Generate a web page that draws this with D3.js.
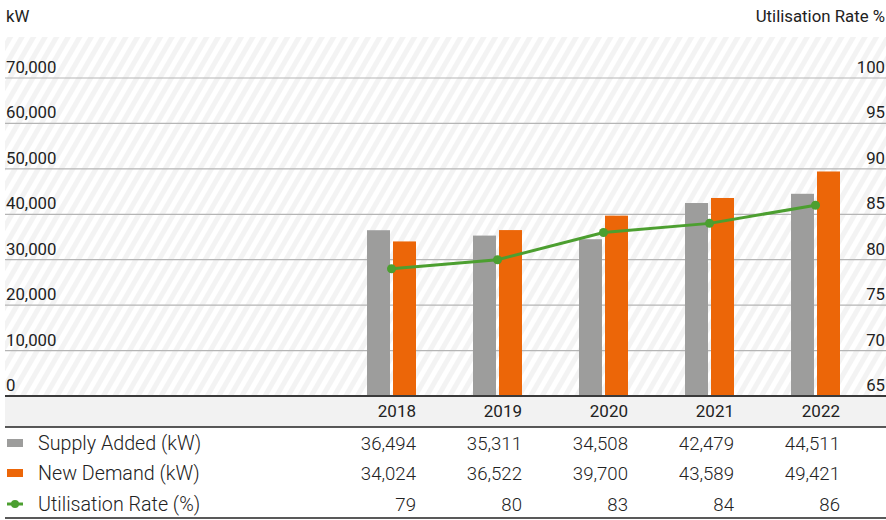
<!DOCTYPE html>
<html><head><meta charset="utf-8">
<script src="https://cdn.jsdelivr.net/npm/d3@7"></script>
<style>
html,body{margin:0;padding:0;background:#fff;}
svg{display:block;font-family:Roboto,"Noto Sans",sans-serif;}
</style></head>
<body>
<svg id="chart" width="886" height="520"></svg>
<script>
const years = ["2018","2019","2020","2021","2022"];
const supplyAdded = [36494, 35311, 34508, 42479, 44511];
const newDemand = [34024, 36522, 39700, 43589, 49421];
const utilisation = [79, 80, 83, 84, 86];
const leftTicks = [0, 10000, 20000, 30000, 40000, 50000, 60000, 70000];
const rightTicks = [65, 70, 75, 80, 85, 90, 95, 100];
const seriesNames = ["Supply Added (kW)", "New Demand (kW)", "Utilisation Rate (%)"];
const colors = {supply:"#9d9d9c", demand:"#ec6608", util:"#4c9f30"};

(function(){
const svg = d3.select("#chart");
const pLeft = 5, pRight = 886, pTop = 37, base = 396;
const yTop = 78;

const y = d3.scaleLinear().domain([0,70000]).range([base, yTop]);
const y2 = d3.scaleLinear().domain([65,100]).range([base, yTop]);
const x0 = d3.scaleBand().domain(years).range([338.5, 868.5]).paddingInner(0.5377).paddingOuter(0.26885);
const x1 = d3.scaleBand().domain(["supply","demand"]).range([0, x0.bandwidth()]).paddingInner(0.1154);

// hatch pattern
const defs = svg.append("defs");
const pat = defs.append("pattern").attr("id","hatch").attr("patternUnits","userSpaceOnUse")
  .attr("width",10).attr("height",10).attr("patternTransform","rotate(30)");
pat.append("rect").attr("width",10).attr("height",10).attr("fill","#f3f3f3");
pat.append("rect").attr("x",0).attr("width",5).attr("height",10).attr("fill","#ffffff");
svg.append("rect").attr("x",pLeft).attr("y",pTop).attr("width",pRight-pLeft).attr("height",base-pTop).attr("fill","url(#hatch)");

// gridlines
svg.append("g").selectAll("line").data(leftTicks.slice(1)).join("line")
  .attr("x1",pLeft).attr("x2",pRight).attr("y1",d=>y(d)).attr("y2",d=>y(d))
  .attr("stroke","#b5b5b5").attr("stroke-width",1.2);

// axis labels
svg.append("g").selectAll("text").data(leftTicks).join("text")
  .attr("x",6).attr("y",d=>y(d)-5).attr("font-size",16.8).attr("fill","#222").text(d=>d3.format(",")(d));
svg.append("g").selectAll("text").data(rightTicks).join("text")
  .attr("x",885).attr("y",d=>y2(d)-5).attr("font-size",16.8).attr("fill","#222").attr("text-anchor","end").text(d=>d);
svg.append("text").attr("x",6).attr("y",22).attr("font-size",16.8).attr("fill","#222").text("kW");
svg.append("text").attr("x",885).attr("y",22).attr("font-size",16.8).attr("fill","#222").attr("text-anchor","end").text("Utilisation Rate %");

// bars
const g = svg.append("g");
years.forEach((yr,i)=>{
  g.append("rect").attr("x",x0(yr)+x1("supply")).attr("width",x1.bandwidth())
    .attr("y",y(supplyAdded[i])).attr("height",base-y(supplyAdded[i])).attr("fill",colors.supply);
  g.append("rect").attr("x",x0(yr)+x1("demand")).attr("width",x1.bandwidth())
    .attr("y",y(newDemand[i])).attr("height",base-y(newDemand[i])).attr("fill",colors.demand);
});

// line
const line = d3.line().x((d,i)=>x0(years[i])+x0.bandwidth()/2).y(d=>y2(d));
svg.append("path").datum(utilisation).attr("d",line).attr("fill","none").attr("stroke",colors.util).attr("stroke-width",3);
svg.append("g").selectAll("circle").data(utilisation).join("circle")
  .attr("cx",(d,i)=>x0(years[i])+x0.bandwidth()/2).attr("cy",d=>y2(d)).attr("r",4.5).attr("fill",colors.util);

// table
svg.append("rect").attr("x",pLeft).attr("y",base).attr("width",pRight-pLeft).attr("height",31).attr("fill","#f2f2f2");
svg.append("line").attr("x1",pLeft).attr("x2",pRight).attr("y1",base).attr("y2",base).attr("stroke","#3a3a3a").attr("stroke-width",2);
svg.append("line").attr("x1",pLeft).attr("x2",pRight).attr("y1",427).attr("y2",427).attr("stroke","#222").attr("stroke-width",1.5);
svg.append("line").attr("x1",pLeft).attr("x2",pRight).attr("y1",518).attr("y2",518).attr("stroke","#222").attr("stroke-width",1.5);

const colRight = yr => x0(yr)+x0.bandwidth();
svg.append("g").selectAll("text").data(years).join("text")
  .attr("x",d=>colRight(d)).attr("y",417).attr("text-anchor","end").attr("font-size",17).attr("fill","#222").text(d=>d);

const rows = [
  {name:seriesNames[0], vals:supplyAdded.map(d3.format(",")), key:"supply", y:450},
  {name:seriesNames[1], vals:newDemand.map(d3.format(",")), key:"demand", y:480},
  {name:seriesNames[2], vals:utilisation.map(String), key:"util", y:511}
];
rows.forEach(r=>{
  svg.append("text").attr("x",38).attr("y",r.y).attr("font-size",19.7).attr("font-weight",300).attr("fill","#222").text(r.name);
  svg.append("g").selectAll("text").data(r.vals).join("text")
    .attr("x",(d,i)=>colRight(years[i])).attr("y",r.y).attr("text-anchor","end")
    .attr("font-size",18.6).attr("font-weight",300).attr("fill","#222").text(d=>d);
  if(r.key==="util"){
    svg.append("line").attr("x1",7).attr("x2",23).attr("y1",r.y-7).attr("y2",r.y-7).attr("stroke",colors.util).attr("stroke-width",3);
    svg.append("circle").attr("cx",15).attr("cy",r.y-7).attr("r",4).attr("fill",colors.util);
  } else {
    svg.append("rect").attr("x",7).attr("y",r.y-11).attr("width",16).attr("height",8).attr("fill",colors[r.key]);
  }
});
})();
</script>
</body></html>
